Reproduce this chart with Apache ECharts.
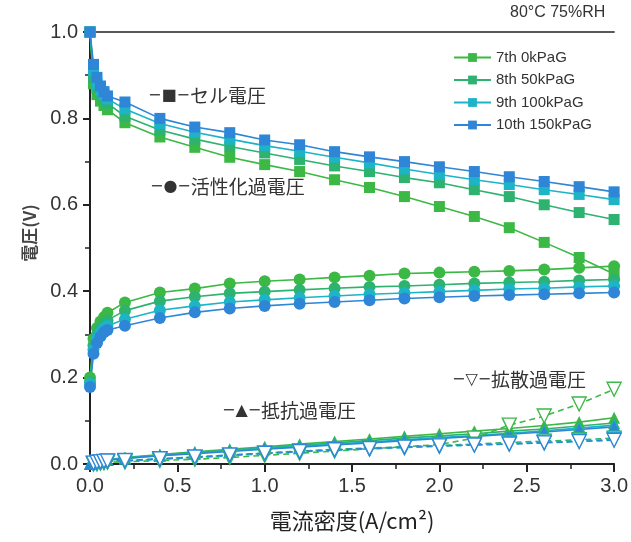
<!DOCTYPE html>
<html>
<head>
<meta charset="utf-8">
<script src="https://cdn.jsdelivr.net/npm/echarts@6/dist/echarts.min.js"></script>
<style>html,body{margin:0;padding:0;background:#fff;}#c{width:631px;height:542px;}</style>
</head>
<body>
<div id="c"></div>
<script>
// current density (A/cm2)
const xs = [0, 0.02, 0.04, 0.06, 0.08, 0.1, 0.2, 0.4, 0.6, 0.8, 1.0, 1.2, 1.4, 1.6, 1.8, 2.0, 2.2, 2.4, 2.6, 2.8, 3.0];
const seriesNames = ['7th 0kPaG', '8th 50kPaG', '9th 100kPaG', '10th 150kPaG'];
const colors = ['#3cb845', '#2db270', '#1cb4c6', '#2f86d6'];

// cell voltage
const cell7  = [1.0, 0.88, 0.855, 0.84, 0.83, 0.82, 0.79, 0.757, 0.733, 0.71, 0.693, 0.677, 0.658, 0.64, 0.619, 0.596, 0.573, 0.547, 0.513, 0.478, 0.44];
const cell8  = [1.0, 0.895, 0.87, 0.855, 0.845, 0.835, 0.805, 0.773, 0.752, 0.735, 0.72, 0.705, 0.69, 0.677, 0.663, 0.651, 0.635, 0.619, 0.60, 0.582, 0.566];
const cell9  = [1.0, 0.91, 0.88, 0.865, 0.855, 0.845, 0.822, 0.788, 0.768, 0.752, 0.737, 0.724, 0.71, 0.697, 0.683, 0.67, 0.658, 0.647, 0.635, 0.624, 0.612];
const cell10 = [1.0, 0.925, 0.895, 0.875, 0.862, 0.852, 0.838, 0.80, 0.78, 0.767, 0.75, 0.739, 0.723, 0.711, 0.70, 0.688, 0.677, 0.665, 0.654, 0.642, 0.63];

// activation overvoltage
const act7  = [0.20, 0.29, 0.315, 0.33, 0.34, 0.35, 0.374, 0.397, 0.406, 0.418, 0.423, 0.427, 0.432, 0.436, 0.441, 0.443, 0.445, 0.447, 0.45, 0.454, 0.458];
const act8  = [0.19, 0.275, 0.30, 0.315, 0.325, 0.333, 0.355, 0.377, 0.387, 0.395, 0.399, 0.403, 0.407, 0.41, 0.412, 0.415, 0.418, 0.42, 0.422, 0.425, 0.427];
const act9  = [0.185, 0.265, 0.29, 0.305, 0.315, 0.32, 0.335, 0.356, 0.366, 0.375, 0.38, 0.385, 0.389, 0.393, 0.396, 0.399, 0.402, 0.405, 0.407, 0.41, 0.412];
const act10 = [0.178, 0.255, 0.28, 0.295, 0.305, 0.31, 0.32, 0.338, 0.351, 0.36, 0.366, 0.371, 0.375, 0.379, 0.383, 0.386, 0.389, 0.391, 0.393, 0.395, 0.397];

// resistance overvoltage
const res7  = [0.0, 0.005, 0.007, 0.008, 0.009, 0.01, 0.015, 0.022, 0.028, 0.034, 0.04, 0.046, 0.052, 0.058, 0.064, 0.07, 0.076, 0.082, 0.089, 0.097, 0.107];
const res8  = [0.0, 0.005, 0.006, 0.008, 0.009, 0.01, 0.014, 0.021, 0.027, 0.032, 0.038, 0.043, 0.049, 0.054, 0.06, 0.065, 0.07, 0.076, 0.081, 0.088, 0.095];
const res9  = [0.0, 0.004, 0.006, 0.007, 0.008, 0.009, 0.013, 0.02, 0.025, 0.031, 0.036, 0.041, 0.046, 0.051, 0.056, 0.061, 0.066, 0.071, 0.077, 0.083, 0.09];
const res10 = [0.0, 0.004, 0.006, 0.007, 0.008, 0.009, 0.013, 0.019, 0.024, 0.029, 0.034, 0.039, 0.044, 0.049, 0.054, 0.059, 0.064, 0.069, 0.074, 0.08, 0.086];

// diffusion overvoltage
const diff7  = [-0.025, -0.005, 0.0, 0.002, 0.003, 0.004, 0.005, 0.008, 0.011, 0.015, 0.02, 0.025, 0.03, 0.035, 0.04, 0.045, 0.06, 0.09, 0.111, 0.139, 0.173];
const diff8  = [-0.015, 0.0, 0.003, 0.004, 0.005, 0.006, 0.007, 0.012, 0.016, 0.02, 0.025, 0.03, 0.034, 0.037, 0.04, 0.043, 0.046, 0.05, 0.053, 0.056, 0.06];
const diff9  = [-0.012, 0.001, 0.003, 0.004, 0.005, 0.006, 0.007, 0.011, 0.015, 0.019, 0.024, 0.028, 0.032, 0.035, 0.038, 0.041, 0.044, 0.047, 0.05, 0.053, 0.057];
const diff10 = [-0.01, 0.002, 0.004, 0.005, 0.006, 0.007, 0.008, 0.012, 0.016, 0.021, 0.025, 0.029, 0.033, 0.036, 0.039, 0.042, 0.044, 0.046, 0.049, 0.052, 0.055];

const xTicks = ['0.0', '0.5', '1.0', '1.5', '2.0', '2.5', '3.0'];
const yTicks = ['0.0', '0.2', '0.4', '0.6', '0.8', '1.0'];

const cells = [cell7, cell8, cell9, cell10];
const acts = [act7, act8, act9, act10];
const ress = [res7, res8, res9, res10];
const diffs = [diff7, diff8, diff9, diff10];

function zip(arr) { return xs.map((x, i) => [x, arr[i]]); }

const series = [];
const groups = [
  {data: cells, symbol: 'rect', size: 11, hollow: false, dashed: false},
  {data: acts, symbol: 'circle', size: 12, hollow: false, dashed: false},
  {data: ress, symbol: 'triangle', size: 12, hollow: false, dashed: false},
  {data: diffs, symbol: 'triangle', size: 14, hollow: true, dashed: true}
];
groups.forEach(g => {
  g.data.forEach((arr, k) => {
    series.push({
      name: seriesNames[k],
      type: 'line',
      data: zip(arr),
      symbol: g.symbol,
      symbolSize: g.size,
      symbolRotate: g.hollow ? 180 : 0,
      showAllSymbol: true,
      animation: false,
      lineStyle: {color: colors[k], width: 1.6, type: g.dashed ? [6, 4] : 'solid'},
      itemStyle: g.hollow ? {color: '#ffffff', borderColor: colors[k], borderWidth: 1.4}
                          : {color: colors[k], borderWidth: 0},
      emphasis: {disabled: true}
    });
  });
});

const chart = echarts.init(document.getElementById('c'), null, {renderer: 'canvas'});
const latin = 'Liberation Sans, Arial, sans-serif';
const cjk = '"Noto Sans CJK JP", sans-serif';
function note(left, top, sym, label) {
  return {
    type: 'text', left: left, top: top,
    style: {
      text: '{s|' + sym + '}{t|' + label + '}',
      rich: {
        s: {fontFamily: '"DejaVu Sans", sans-serif', fontSize: 16, fill: '#333'},
        t: {fontFamily: cjk, fontSize: 19, fill: '#333'}
      }
    }
  };
}
chart.setOption({
  backgroundColor: '#ffffff',
  animation: false,
  grid: {left: 90, right: 16, top: 32, bottom: 78},
  legend: {
    data: seriesNames,
    orient: 'vertical',
    left: 448, top: 45,
    itemWidth: 37, itemHeight: 11, itemGap: 7.5,
    textStyle: {fontFamily: latin, fontSize: 15, color: '#333'},
    selectedMode: false
  },
  xAxis: [{
    type: 'value', min: 0, max: 3, interval: 0.5,
    name: '電流密度(A/cm²)', nameLocation: 'middle', nameGap: 46,
    nameTextStyle: {fontFamily: cjk, fontSize: 22, color: '#222'},
    axisLine: {show: true, lineStyle: {color: '#222', width: 2}},
    axisTick: {show: true, inside: false, length: 8, lineStyle: {color: '#222', width: 2}},
    minorTick: {show: true, splitNumber: 2, length: 5, lineStyle: {color: '#222', width: 1.5}},
    axisLabel: {fontFamily: latin, fontSize: 20, color: '#333', margin: 12,
      formatter: v => xTicks[Math.round(v / 0.5)]},
    splitLine: {show: false}
  }, {
    type: 'value', min: 0, max: 3, position: 'top',
    axisLine: {show: true, onZero: false, lineStyle: {color: '#222', width: 1.5}},
    axisTick: {show: false}, axisLabel: {show: false}, splitLine: {show: false}
  }],
  yAxis: [{
    type: 'value', min: 0, max: 1, interval: 0.2,
    name: '電圧(V)', nameLocation: 'middle', nameGap: 52,
    nameTextStyle: {fontFamily: cjk, fontSize: 17, color: '#444', fontWeight: 'bold', padding: [0, 0, 0, 30]},
    axisLine: {show: true, lineStyle: {color: '#222', width: 2}},
    axisTick: {show: true, inside: false, length: 7, lineStyle: {color: '#222', width: 2}},
    minorTick: {show: true, splitNumber: 2, length: 4, lineStyle: {color: '#222', width: 1.5}},
    axisLabel: {fontFamily: latin, fontSize: 20, color: '#333', margin: 12,
      formatter: v => yTicks[Math.round(v / 0.2)]},
    splitLine: {show: false}
  }, {
    type: 'value', min: 0, max: 1, interval: 0.1, position: 'right',
    axisLine: {show: true, lineStyle: {color: '#222', width: 1.5}},
    axisTick: {show: true, inside: true, length: 5, lineStyle: {color: '#222', width: 1.5}},
    axisLabel: {show: false}, splitLine: {show: false}
  }],
  graphic: [
    {type: 'text', left: 510, top: 5, style: {text: '80°C 75%RH', font: '16px ' + latin, fill: '#333'}},
    note(148, 86, '−■−', 'セル電圧'),
    note(150, 177, '−●−', '活性化過電圧'),
    note(222, 401, '−▲−', '抵抗過電圧'),
    note(452, 370, '−▽−', '拡散過電圧')
  ],
  series: series
});
</script>
</body>
</html>
